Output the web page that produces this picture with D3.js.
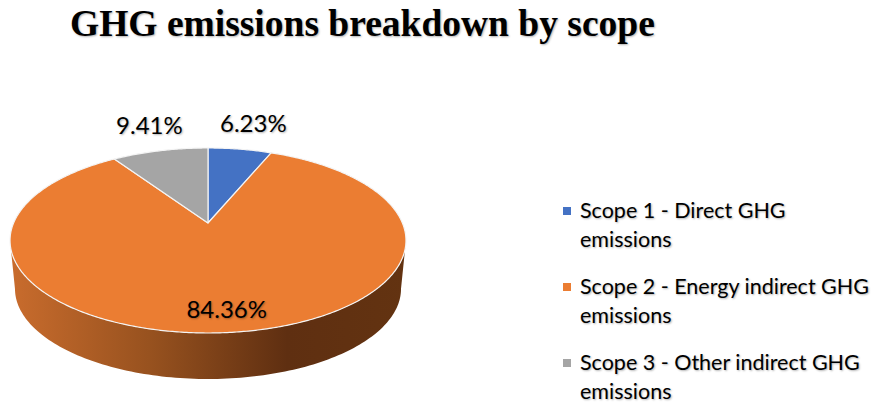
<!DOCTYPE html>
<html lang="en">
<head>
<meta charset="UTF-8">
<title>GHG emissions breakdown by scope</title>
<script src="https://d3js.org/d3.v7.min.js"></script>
<style>
body { margin: 0; background: #fff; }
text { fill: #000; text-shadow: 1px 1px 2px rgba(0,0,0,.3); }
</style>
</head>
<body>
<svg width="875" height="403"></svg>
<script>
// Data
var chartTitle = "GHG emissions breakdown by scope";
var scopes = ["Scope 1 - Direct GHG emissions", "Scope 2 - Energy indirect GHG emissions", "Scope 3 - Other indirect GHG emissions"];
var shares = [6.23, 84.36, 9.41];
var colors = ["#4472c4", "#eb7d32", "#a5a5a5"];

var svg = d3.select("svg");

// Tilted disc: unit circle seen in perspective
var cx = 208, cy = 223, rx = 194.4, ry = 89.2, persp = 0.189;
var depth = 48.75, baseScale = 0.975;

function project(r, a, drop, scale) {
    // a is clockwise from 12 o'clock
    var u = r * Math.sin(a), v = -r * Math.cos(a), w = 1 - persp * v;
    return [cx + scale * rx * u / w, cy + scale * ry * v / w + drop];
}
function onTop(r, a) { return project(r, a, 0, 1); }

var pie = d3.pie().sort(null).value(d => d);
var arcs = pie(shares);
var line = d3.line();

// Side wall, between the two points where the rim is widest
var tangent = Math.acos(-persp); // v = persp
var sweep = d3.range(tangent, 2 * Math.PI - tangent + 0.001, 0.02);
var wall = sweep.map(a => onTop(1, a))
    .concat(sweep.slice().reverse().map(a => project(1, a, depth, baseScale)));

var grad = svg.append("defs").append("linearGradient")
    .attr("id", "side")
    .attr("gradientUnits", "userSpaceOnUse")
    .attr("x1", 10).attr("x2", 406).attr("y1", 0).attr("y2", 0);
[[0, "#c96c2d"], [0.35, "#98521f"], [0.7, "#5f2f11"], [1, "#633311"]].forEach(s =>
    grad.append("stop").attr("offset", s[0]).attr("stop-color", s[1]));

svg.append("path")
    .attr("d", line(wall) + "Z")
    .attr("fill", "url(#side)");

// Slices on the top face
svg.selectAll("path.slice")
    .data(arcs)
    .enter()
    .append("path")
    .attr("class", "slice")
    .attr("d", d => {
        var pts = d3.range(d.startAngle, d.endAngle, 0.01).concat(d.endAngle).map(a => onTop(1, a));
        return line([[cx, cy]].concat(pts)) + "Z";
    })
    .attr("fill", (d, i) => colors[i])
    .attr("stroke", "#f4f4f4")
    .attr("stroke-width", 1.2)
    .attr("stroke-linejoin", "round");

// Data labels: radial position on the disc plus a small nudge
var labelSpots = [{r: 1.5, dy: 2}, {r: 0.78, dy: 4}, {r: 1.3, dy: -9}];
svg.selectAll("text.value")
    .data(arcs)
    .enter()
    .append("text")
    .attr("class", "value")
    .attr("text-anchor", "middle")
    .attr("font-family", "Lato, Carlito, sans-serif")
    .attr("font-size", 24)
    .attr("dominant-baseline", "central")
    .attr("x", (d, i) => onTop(labelSpots[i].r, (d.startAngle + d.endAngle) / 2)[0] + 1)
    .attr("y", (d, i) => onTop(labelSpots[i].r, (d.startAngle + d.endAngle) / 2)[1] + labelSpots[i].dy)
    .text(d => d.value.toFixed(2) + "%");

// Title
svg.append("text")
    .attr("x", 70).attr("y", 36)
    .attr("font-family", "Liberation Serif, serif")
    .attr("font-weight", "bold")
    .attr("font-size", 37.5)
    .text(chartTitle);

// Legend, each entry wrapped on two lines
var legendTop = 218, legendStep = 76, lineGap = 29;
var entry = svg.selectAll("g.legend")
    .data(scopes)
    .enter()
    .append("g")
    .attr("class", "legend")
    .attr("transform", (d, i) => `translate(563,${legendTop + i * legendStep})`);
entry.append("rect")
    .attr("y", -11).attr("width", 8).attr("height", 8)
    .attr("fill", (d, i) => colors[i]);
entry.append("text")
    .attr("x", 17)
    .attr("font-family", "Lato, Carlito, sans-serif")
    .attr("font-size", 21.5)
    .text(d => d.replace(/ emissions$/, ""));
entry.append("text")
    .attr("x", 17).attr("y", lineGap)
    .attr("font-family", "Lato, Carlito, sans-serif")
    .attr("font-size", 21.5)
    .text("emissions");
</script>
</body>
</html>
